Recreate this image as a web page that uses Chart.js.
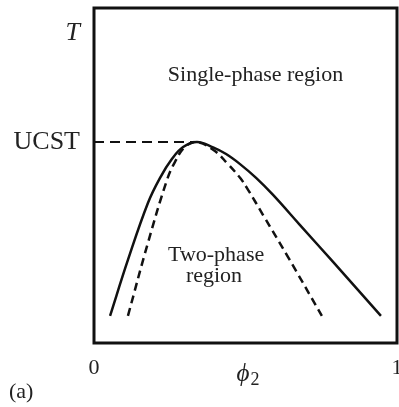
<!DOCTYPE html>
<html>
<head>
<meta charset="utf-8">
<title>UCST phase diagram</title>
<script src="https://cdn.jsdelivr.net/npm/chart.js@4/dist/chart.umd.min.js"></script>
<style>
  html, body { margin: 0; padding: 0; background: #fff; }
  #wrap { width: 399px; height: 407px; position: relative; }
</style>
</head>
<body>
<div id="wrap"><canvas id="chart"></canvas></div>
<script>
// ---------- data (axes normalised 0..1) ----------
const phiBinodal = [0.053, 0.112, 0.178, 0.218, 0.257, 0.294, 0.340, 0.393, 0.436, 0.482, 0.535, 0.591, 0.680, 0.789, 0.947];
const tBinodal   = [0.081, 0.248, 0.418, 0.493, 0.549, 0.585, 0.600, 0.584, 0.564, 0.534, 0.493, 0.442, 0.352, 0.242, 0.081];

const phiSpinodal = [0.112, 0.178, 0.241, 0.267, 0.300, 0.340, 0.399, 0.439, 0.482, 0.508, 0.558, 0.640, 0.752];
const tSpinodal   = [0.081, 0.299, 0.487, 0.540, 0.585, 0.600, 0.573, 0.537, 0.493, 0.458, 0.382, 0.257, 0.081];

const phiUcstLine = [0, 0.340];
const tUcstLine   = [0.600, 0.600];

const xTickValues = [0, 1];
const xTickLabels = ['0', '1'];
const yTickValues = [0.600, 0.925];
const yTickLabels = ['UCST', 'T'];

const SERIF = '"Liberation Serif", "DejaVu Serif", serif';

const toPoints = (xs, ys) => xs.map((x, i) => ({ x, y: ys[i] }));

// ---------- free text: region labels ----------
const freeLabels = [
  { text: 'Single-phase region', x: 0.533, y: 0.80 },
  { text: 'Two-phase', x: 0.403, y: 0.263 },
  { text: 'region', x: 0.396, y: 0.200 },
];

// kill the extra room Chart.js reserves for overhanging edge labels
const noEdgePadding = (scale) => {
  scale.paddingLeft = 0;
  scale.paddingRight = 0;
  scale.paddingTop = 0;
  scale.paddingBottom = 0;
};

const textPlugin = {
  id: 'figureText',
  afterDraw(chart) {
    const { ctx, chartArea, scales } = chart;
    ctx.save();
    ctx.fillStyle = '#222';
    ctx.textAlign = 'center';
    ctx.textBaseline = 'middle';
    ctx.font = `22px ${SERIF}`;
    freeLabels.forEach((l) => {
      ctx.fillText(l.text, scales.x.getPixelForValue(l.x), scales.y.getPixelForValue(l.y));
    });

    // phi_2 under the x axis
    const px = scales.x.getPixelForValue(0.5);
    ctx.font = `italic 25px ${SERIF}`;
    ctx.textAlign = 'right';
    ctx.fillText('\u03D5', px + 4, chartArea.bottom + 31);
    ctx.font = `18px ${SERIF}`;
    ctx.textAlign = 'left';
    ctx.fillText('2', px + 5, chartArea.bottom + 37);

    // (a)
    ctx.font = `22px ${SERIF}`;
    ctx.fillText('(a)', 9, chartArea.bottom + 49);

    // frame
    ctx.strokeStyle = '#111';
    ctx.lineWidth = 3;
    ctx.strokeRect(chartArea.left, chartArea.top, chartArea.right - chartArea.left, chartArea.bottom - chartArea.top);
    ctx.restore();
  },
};

new Chart(document.getElementById('chart'), {
  type: 'line',
  data: {
    datasets: [
      {
        label: 'binodal',
        data: toPoints(phiBinodal, tBinodal),
        borderColor: '#111',
        borderWidth: 2.5,
        tension: 0.4,
        pointRadius: 0,
      },
      {
        label: 'spinodal',
        data: toPoints(phiSpinodal, tSpinodal),
        borderColor: '#111',
        borderWidth: 2.5,
        borderDash: [8, 5],
        tension: 0.4,
        pointRadius: 0,
      },
      {
        label: 'UCST',
        data: toPoints(phiUcstLine, tUcstLine),
        borderColor: '#111',
        borderWidth: 2,
        borderDash: [10, 6],
        pointRadius: 0,
      },
    ],
  },
  options: {
    responsive: true,
    maintainAspectRatio: false,
    animation: false,
    layout: { padding: { left: 0, top: 8, right: 2, bottom: 0 } },
    plugins: { legend: { display: false }, tooltip: { enabled: false } },
    scales: {
      x: {
        type: 'linear',
        min: 0,
        max: 1,
        grid: { display: false, drawTicks: false },
        border: { display: false },
        afterBuildTicks: (scale) => { scale.ticks = xTickValues.map((value) => ({ value })); },
        afterFit: (scale) => { scale.height = 64; noEdgePadding(scale); },
        ticks: {
          color: '#222',
          padding: 12,
          maxRotation: 0,
          font: { family: SERIF, size: 22 },
          callback: (value) => xTickLabels[xTickValues.indexOf(value)],
        },
      },
      y: {
        min: 0,
        max: 1,
        grid: { display: false, drawTicks: false },
        border: { display: false },
        afterBuildTicks: (scale) => { scale.ticks = yTickValues.map((value) => ({ value })); },
        afterFit: (scale) => { scale.width = 94; noEdgePadding(scale); },
        ticks: {
          color: '#222',
          padding: 14,
          font: (ctx) => ({
            family: SERIF,
            size: 26,
            style: ctx.tick && ctx.tick.value === 0.925 ? 'italic' : 'normal',
          }),
          callback: (value) => yTickLabels[yTickValues.indexOf(value)],
        },
      },
    },
  },
  plugins: [textPlugin],
});
</script>
</body>
</html>
